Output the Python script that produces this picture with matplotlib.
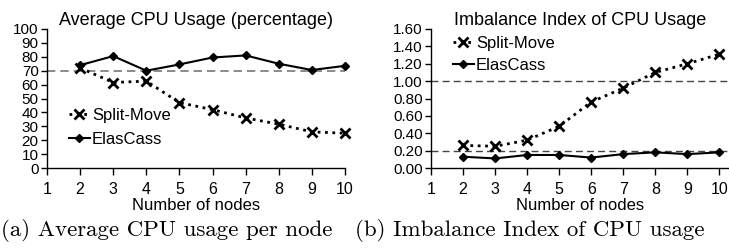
import numpy as np
import matplotlib.pyplot as plt

nodes = [2, 3, 4, 5, 6, 7, 8, 9, 10]

# (a) average CPU usage (percentage)
cpu_split = [72, 61.5, 62.5, 47, 42, 36, 31.5, 26, 25]
cpu_elas = [74, 80.5, 70, 74.5, 79.5, 81, 75, 70.5, 73.5]
cpu_threshold = 70

# (b) imbalance index
imb_split = [0.26, 0.25, 0.32, 0.48, 0.76, 0.92, 1.10, 1.20, 1.31]
imb_elas = [0.13, 0.11, 0.15, 0.15, 0.12, 0.16, 0.18, 0.16, 0.18]
imb_thresholds = [0.2, 1.0]

plt.rcParams['font.family'] = ['Liberation Sans', 'DejaVu Sans']

W, H = 729, 248
fig = plt.figure(figsize=(W / 100, H / 100), dpi=100)


def px_axes(x0, y0, x1, y1):
    # pixel box (top-left origin) -> figure axes
    return fig.add_axes([x0 / W, 1 - y1 / H, (x1 - x0) / W, (y1 - y0) / H])


def style(ax):
    ax.spines['top'].set_visible(False)
    ax.spines['right'].set_visible(False)
    for s in ['left', 'bottom']:
        ax.spines[s].set_linewidth(1.0)
    ax.tick_params(axis='y', direction='out', length=4, width=1, pad=2, labelsize=11)
    ax.tick_params(axis='x', direction='out', length=5, width=1, pad=5, labelsize=11.5)
    ax.set_xticks(range(1, 11))
    ax.set_xlabel('Number of nodes', fontsize=12)
    ax.xaxis.set_label_coords(0.5, -0.215)


ax1 = px_axes(47, 29, 345, 168)
ax1.axhline(cpu_threshold, color='#777777', ls=(0, (5, 3)), lw=1.2)
ax1.plot(nodes, cpu_split, color='black', ls=':', lw=2, marker='x', ms=7, mew=2,
         label='Split-Move', clip_on=False)
ax1.plot(nodes, cpu_elas, color='black', ls='-', lw=1.5, marker='D', ms=4,
         label='ElasCass', clip_on=False)
ax1.set_xlim(1, 10)
ax1.set_ylim(0, 100)
ax1.set_yticks(range(0, 101, 10))
ax1.set_title('Average CPU Usage (percentage)', fontsize=13, pad=3)
style(ax1)
ax1.legend(loc='upper left', bbox_to_anchor=(0.05, 0.48), frameon=False, fontsize=12,
           handlelength=1.3, handletextpad=0.1, labelspacing=0.55, borderaxespad=0)

ax2 = px_axes(431, 29, 729, 168)
for t in imb_thresholds:
    ax2.axhline(t, color='#444444', ls=(0, (5, 3)), lw=1.0)
ax2.plot(nodes, imb_split, color='black', ls=':', lw=2, marker='x', ms=7, mew=2,
         label='Split-Move', clip_on=False)
ax2.plot(nodes, imb_elas, color='black', ls='-', lw=1.5, marker='D', ms=4,
         label='ElasCass', clip_on=False)
ax2.set_xlim(1, 10.3)
ax2.set_ylim(0, 1.6)
ax2.set_yticks(np.arange(0, 1.61, 0.2))
ax2.set_yticklabels([f'{v:.2f}' for v in np.arange(0, 1.61, 0.2)])
ax2.set_title('Imbalance Index of CPU Usage', fontsize=13, pad=3)
style(ax2)
ax2.legend(loc='upper left', bbox_to_anchor=(0.05, 1.0), frameon=False, fontsize=12,
           handlelength=1.3, handletextpad=0.1, labelspacing=0.45, borderaxespad=0)

cap = dict(fontsize=16.5, family='cmr10', va='center', ha='left')
fig.text(1 / W, 1 - 231 / H, '(a) Average CPU usage per node', **cap)
fig.text(355 / W, 1 - 231 / H, '(b) Imbalance Index of CPU usage', **cap)

fig.savefig('out.png', dpi=100)
